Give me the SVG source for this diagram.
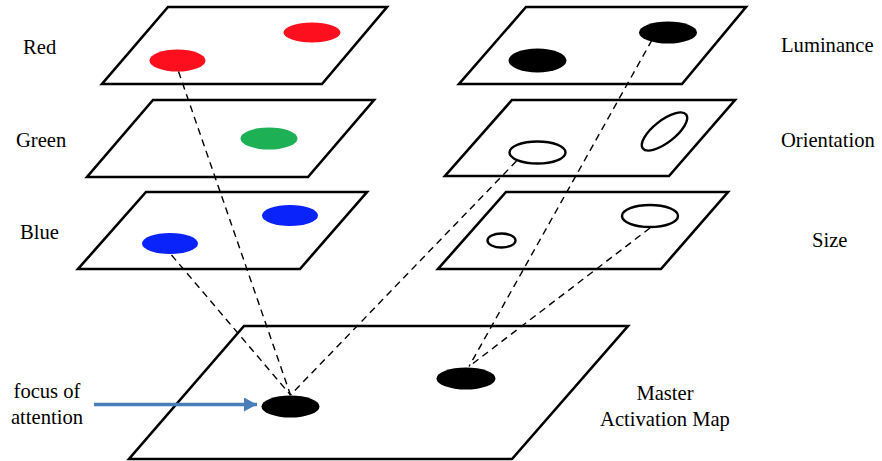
<svg xmlns="http://www.w3.org/2000/svg" width="882" height="461" viewBox="0 0 882 461">
  <defs>
    <style>
      .plane { fill: #ffffff; stroke: #000000; stroke-width: 2.6; stroke-linejoin: miter; }
      .ring { fill: none; stroke: #000000; stroke-width: 2.4; }
      .solid { fill: #000000; }
      .red { fill: #fe0f1e; }
      .green { fill: #1db055; }
      .blue { fill: #0a23fb; }
      .link { fill: none; stroke: #000000; stroke-width: 1.4; stroke-dasharray: 7 5; }
      .label { font-family: "Liberation Serif", "Times New Roman", serif; font-size: 20.6px; fill: #000000; }
    </style>
    <marker id="arrowHead" markerWidth="13" markerHeight="14" viewBox="0 0 13 14" refX="13" refY="7" orient="auto" markerUnits="userSpaceOnUse">
      <path d="M0,0 L13,7 L0,14 Z" fill="#4a7ebb"/>
    </marker>
  </defs>

  <rect width="882" height="461" fill="#ffffff"/>

  <!-- feature maps: colour channels -->
  <g id="map-red">
    <polygon class="plane" points="168,7 387,7 322,84 102,84"/>
    <ellipse class="red" cx="312" cy="32.5" rx="28.5" ry="10"/>
    <ellipse class="red" cx="177.5" cy="60.5" rx="28" ry="11"/>
    <text class="label" x="23" y="54">Red</text>
  </g>

  <g id="map-green">
    <polygon class="plane" points="153,100 374,100 308,177 87,177"/>
    <ellipse class="green" cx="269" cy="138.5" rx="28.5" ry="11"/>
    <text class="label" x="16" y="147">Green</text>
  </g>

  <g id="map-blue">
    <polygon class="plane" points="146,192 367,192 300,269 78,269"/>
    <ellipse class="blue" cx="290" cy="215.5" rx="28" ry="10.5"/>
    <ellipse class="blue" cx="170" cy="243.5" rx="28" ry="10.5"/>
    <text class="label" x="20" y="239">Blue</text>
  </g>

  <!-- feature maps: form channels -->
  <g id="map-luminance">
    <polygon class="plane" points="526,7 746,7 682,84 459,84"/>
    <ellipse class="solid" cx="668" cy="32.5" rx="29" ry="11"/>
    <ellipse class="solid" cx="537.5" cy="60.5" rx="29" ry="12"/>
    <text class="label" x="781" y="52">Luminance</text>
  </g>

  <g id="map-orientation">
    <polygon class="plane" points="512,100 735,100 669,176 445,176"/>
    <ellipse class="ring" cx="537.5" cy="152.5" rx="28" ry="11"/>
    <ellipse class="ring" cx="664.5" cy="131.5" rx="27.5" ry="11" transform="rotate(-38 664.5 131.5)"/>
    <text class="label" x="781" y="147">Orientation</text>
  </g>

  <g id="map-size">
    <polygon class="plane" points="506,192 728,192 661,269 438,269"/>
    <ellipse class="ring" cx="501.5" cy="240.5" rx="14" ry="7"/>
    <ellipse class="ring" cx="650" cy="216" rx="28" ry="11"/>
    <text class="label" x="812" y="247">Size</text>
  </g>

  <!-- master activation map -->
  <g id="map-master">
    <polygon class="plane" points="244,326 628,326 512,459 129,459"/>
    <ellipse class="solid" cx="290.5" cy="406.5" rx="29" ry="11"/>
    <ellipse class="solid" cx="466" cy="378.5" rx="29.5" ry="11"/>
    <text class="label" x="665" y="400" text-anchor="middle">Master</text>
    <text class="label" x="665" y="426" text-anchor="middle">Activation Map</text>
  </g>

  <!-- focus of attention pointer -->
  <g id="focus">
    <line x1="94" y1="404.5" x2="257" y2="404.5" stroke="#4a7ebb" stroke-width="3.6" marker-end="url(#arrowHead)"/>
    <text class="label" x="47" y="398" text-anchor="middle">focus of</text>
    <text class="label" x="47" y="424" text-anchor="middle">attention</text>
  </g>

  <!-- dashed links from feature locations down to the master map -->
  <g id="connectors">
    <line class="link" x1="178.5" y1="71.5" x2="290.5" y2="395"/>
    <line class="link" x1="171.5" y1="255" x2="290.5" y2="395"/>
    <line class="link" x1="516.5" y1="161" x2="290.5" y2="395"/>
    <line class="link" x1="652" y1="40" x2="469" y2="366.5"/>
    <line class="link" x1="650" y1="228" x2="469" y2="366.5"/>
  </g>
</svg>
